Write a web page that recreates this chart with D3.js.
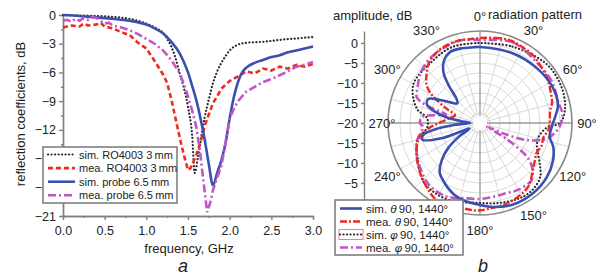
<!DOCTYPE html>
<html>
<head>
<meta charset="utf-8">
<script src="https://cdn.jsdelivr.net/npm/d3@7"></script>
<style>
body { margin: 0; background: #fff; }
svg { display: block; font-family: "Liberation Sans", Arial, sans-serif; }
.ax path, .ax line { stroke: #808080; stroke-width: 1.4; }
.ax text { fill: #222; font-size: 12.5px; }
</style>
</head>
<body>
<svg id="chart" width="608" height="278"></svg>
<script>
// ---- panel a data (frequency in GHz, S11 in dB) ----
var freqTicks = [0, 0.5, 1, 1.5, 2, 2.5, 3];
var dbTicks = [0, -3, -6, -9, -12, -15, -18, -21];

var simROFreq = [0, 0.2, 0.4, 0.6, 0.8, 0.9, 1.0, 1.1, 1.2, 1.25, 1.3, 1.35, 1.4, 1.45, 1.5, 1.55, 1.58, 1.62, 1.66, 1.7, 1.75, 1.8, 1.85, 1.9, 1.95, 2.0, 2.1, 2.2, 2.4, 2.6, 2.8, 3.0];
var simRODb = [0, -0.05, -0.1, -0.2, -0.4, -0.6, -0.9, -1.3, -1.9, -2.5, -3.3, -4.5, -6.1, -7.6, -9.6, -12.6, -16.5, -14.8, -12.7, -10.7, -8.8, -7.1, -5.9, -5.0, -4.3, -3.7, -3.1, -2.9, -2.8, -2.6, -2.45, -2.3];

var meaROFreq = [0, 0.1, 0.2, 0.25, 0.3, 0.4, 0.45, 0.5, 0.6, 0.7, 0.8, 0.9, 1.0, 1.1, 1.2, 1.25, 1.3, 1.35, 1.4, 1.45, 1.5, 1.53, 1.56, 1.6, 1.65, 1.7, 1.75, 1.8, 1.85, 1.9, 2.0, 2.1, 2.2, 2.3, 2.4, 2.5, 2.6, 2.7, 2.8, 2.9, 3.0];
var meaRODb = [-1.3, -1.1, -1.2, -0.9, -1.1, -1.0, -0.8, -1.2, -1.4, -1.8, -2.1, -2.9, -3.5, -4.8, -6.2, -7.1, -8.8, -10.8, -12.8, -14.6, -16.2, -16.0, -15.4, -14.6, -13.3, -11.6, -10.4, -9.2, -8.5, -7.7, -6.9, -6.4, -5.9, -6.1, -5.6, -5.8, -5.4, -5.6, -5.2, -5.4, -5.1];

var simProbeFreq = [0, 0.2, 0.4, 0.6, 0.8, 1.0, 1.1, 1.2, 1.3, 1.4, 1.45, 1.5, 1.55, 1.6, 1.65, 1.7, 1.75, 1.8, 1.85, 1.9, 1.95, 2.0, 2.05, 2.1, 2.15, 2.2, 2.3, 2.4, 2.5, 2.6, 2.7, 2.8, 2.9, 3.0];
var simProbeDb = [0, -0.1, -0.25, -0.4, -0.6, -1.0, -1.4, -1.9, -2.8, -4.0, -4.9, -6.0, -7.4, -8.9, -10.8, -13.0, -15.6, -17.8, -16.5, -15.2, -13.4, -10.8, -8.6, -7.0, -6.0, -5.5, -5.0, -4.7, -4.4, -4.2, -3.9, -3.7, -3.5, -3.3];

var meaProbeFreq = [0, 0.05, 0.1, 0.15, 0.2, 0.25, 0.3, 0.35, 0.4, 0.45, 0.5, 0.55, 0.6, 0.7, 0.8, 0.9, 1.0, 1.1, 1.2, 1.3, 1.4, 1.45, 1.5, 1.55, 1.6, 1.64, 1.68, 1.73, 1.77, 1.8, 1.85, 1.9, 1.95, 2.0, 2.05, 2.1, 2.2, 2.3, 2.4, 2.5, 2.6, 2.7, 2.8, 2.9, 3.0];
var meaProbeDb = [-0.6, -0.5, -0.7, -0.4, -0.6, -0.3, -0.5, -0.2, -0.3, -0.6, -0.9, -0.8, -1.1, -1.3, -1.6, -2.0, -2.5, -3.0, -3.7, -4.7, -6.1, -7.2, -8.5, -10.0, -11.7, -14.0, -17.0, -20.6, -19.5, -18.3, -17.0, -15.8, -13.4, -10.8, -9.8, -9.0, -8.0, -7.5, -7.0, -6.7, -6.3, -5.9, -5.4, -5.2, -4.9];

var legendA = ["sim. RO4003 3\u2009mm", "mea. RO4003 3\u2009mm", "sim. probe 6.5\u2009mm", "mea. probe 6.5\u2009mm"];

// ---- panel b data (angle in degrees, amplitude in dB) ----
// 210 deg label sits under the legend in the original, so it is left out
var angleLabels = [0, 30, 60, 90, 120, 150, 180, 240, 270, 300, 330];
var ampTicks = [0, -5, -10, -15, -20];

var simThetaAng = [0, 25, 46, 64, 77, 86, 90, 101, 108, 117, 129, 143, 158, 171, 180, 192, 200, 207, 213, 219, 226, 232, 237, 242, 248, 254, 258, 262, 266, 270, 276, 280, 284, 289, 295, 300, 305, 311, 316, 320, 324, 330, 337, 345, 355];
var simThetaDb = [-1, -0.75, -0.25, 0.25, 0, -1.25, -1.75, -2.25, -0.75, 0.5, 1.5, 2, 2, 1.25, 0.5, -0.25, -1, -2, -3, -4, -6.75, -10, -13.75, -17, -10, -5, -5.5, -8.75, -13.75, -17.5, -15, -11.25, -8.5, -6, -5.75, -8.5, -11, -12.5, -11.5, -8, -4.5, -2, -0.75, -0.75, -1];

var meaThetaAng = [0, 10, 20, 30, 38, 47, 56, 65, 74, 80, 86, 95, 103, 110, 118, 125, 132, 143, 157, 165, 173, 182, 191, 201, 211, 230, 245, 257, 265, 272, 280, 287, 293, 300, 305, 312, 320, 329, 338, 346, 353];
var meaThetaDb = [1.25, 1.6, 2, 1.7, 1.5, 0.8, 0.25, -0.6, -1.25, -2.2, -2.5, -2.75, -3.75, -3.6, -4, -3.3, -2.25, 0, 1, 1.3, 1.5, 1.9, 1.75, 2.1, 2, -0.5, -2.5, -4.5, -7.5, -10.5, -12.5, -13.5, -11, -6.25, -3.75, -2, -0.2, 0.75, 1.2, 1.25, 1.1];

var simPhiAng = [0, 23, 49, 67, 81, 90, 94, 104, 113, 124, 132, 142, 152, 168, 185, 200, 215, 225, 244, 255, 265, 275, 283, 300, 322, 340, 358];
var simPhiDb = [0, 0.75, 2.25, 2.25, 1.5, 0, -3.25, -5, -4.5, -2, 0.25, 1.25, 1.25, 0.5, 0, 0.75, 0.75, 0.25, -2.5, -3.75, -6.75, -6.75, -3.75, -0.75, -0.5, 0.25, 0];

var meaPhiAng = [0, 22, 43, 60, 75, 84, 92, 97, 103, 110, 114, 117, 121, 125, 129, 133, 138, 150, 159, 170, 180, 193, 205, 220, 235, 245, 255, 266, 270, 276, 280, 284, 288, 292, 300, 309, 319, 331, 346, 353];
var meaPhiDb = [0.75, 1.75, 0.75, 0.75, 0.25, 0.75, 0, -1, -2.75, -7.5, -13.75, -18, -12.5, -6.25, -3.5, -2, -0.75, -0.75, -1.25, -1.25, -1, -0.75, 0.25, 0, -1.5, -2.5, -3.75, -5.75, -5, -5.5, -8.75, -11.25, -6.25, -3, -2, -0.75, 0.25, 0.75, 1.25, 1];

var svg = d3.select("#chart");

// series styles (shared by both panels)
var styles = {
	black:   {stroke: "#2a2a2a", width: 2.2, dash: "0.1,3.4", cap: "round"},
	red:     {stroke: "#f02a20", width: 2.6, dash: "5,3", cap: "butt"},
	blue:    {stroke: "#3a4fb0", width: 2.6, dash: null, cap: "butt"},
	magenta: {stroke: "#c455c4", width: 2.6, dash: "8,3,2,3", cap: "butt"},
	redDot:  {stroke: "#f02a20", width: 2.4, dash: "7,2,2,2", cap: "butt"}
};

function applyStyle(sel, st) {
	sel.attr("fill", "none")
	   .attr("stroke", st.stroke)
	   .attr("stroke-width", st.width)
	   .attr("stroke-linecap", st.cap)
	   .attr("stroke-dasharray", st.dash);
	return sel;
}

// ================= panel a =================
var x = d3.scaleLinear().domain([0, 3]).range([63, 313]);
var y = d3.scaleLinear().domain([-21, 0]).range([216, 15]);

svg.append("g").attr("class", "ax")
	.attr("transform", "translate(0,216)")
	.call(d3.axisBottom(x).tickValues(d3.range(0.25, 3, 0.5)).tickSize(2).tickFormat(""));
svg.append("g").attr("class", "ax")
	.attr("transform", "translate(0,216)")
	.call(d3.axisBottom(x).tickValues(freqTicks).tickSize(4).tickSizeOuter(0).tickFormat(d3.format(".1f")))
	.selectAll("text").attr("dy", "0.95em");
svg.append("g").attr("class", "ax")
	.attr("transform", "translate(63,0)")
	.call(d3.axisLeft(y).tickValues(d3.range(-19.5, 0, 3)).tickSize(2).tickFormat(""));
svg.append("g").attr("class", "ax")
	.attr("transform", "translate(63,0)")
	.call(d3.axisLeft(y).tickValues(dbTicks).tickSize(4).tickSizeOuter(0));

var seriesA = [
	{f: simROFreq, v: simRODb, st: styles.black, curve: d3.curveMonotoneX},
	{f: meaROFreq, v: meaRODb, st: styles.red, curve: d3.curveLinear},
	{f: simProbeFreq, v: simProbeDb, st: styles.blue, curve: d3.curveMonotoneX},
	{f: meaProbeFreq, v: meaProbeDb, st: styles.magenta, curve: d3.curveLinear}
];

seriesA.forEach(function(s) {
	var pts = s.f.map(function(f, i) { return [f, s.v[i]]; });
	var line = d3.line()
		.x(function(d) { return x(d[0]); })
		.y(function(d) { return y(d[1]); })
		.curve(s.curve);
	applyStyle(svg.append("path").attr("d", line(pts)), s.st);
});

svg.append("text")
	.attr("transform", "translate(20,114) rotate(-90)")
	.attr("text-anchor", "middle").attr("dominant-baseline", "central")
	.attr("font-size", 13).attr("fill", "#222")
	.text("reflection coefficients, dB");
svg.append("text")
	.attr("x", 189).attr("y", 248)
	.attr("text-anchor", "middle").attr("dominant-baseline", "central")
	.attr("font-size", 13).attr("fill", "#222")
	.text("frequency, GHz");
svg.append("text")
	.attr("x", 183).attr("y", 266)
	.attr("text-anchor", "middle").attr("dominant-baseline", "central")
	.attr("font-size", 18).attr("font-style", "italic").attr("fill", "#222")
	.text("a");

// legend a
var legA = svg.append("g");
legA.append("rect")
	.attr("x", 43).attr("y", 147).attr("width", 134).attr("height", 56)
	.attr("fill", "#fff").attr("stroke", "#777").attr("stroke-width", 1.5);
seriesA.forEach(function(s, i) {
	var ly = 154.5 + i * 13.6;
	applyStyle(legA.append("line")
		.attr("x1", 48).attr("x2", 75).attr("y1", ly).attr("y2", ly), s.st);
	legA.append("text")
		.attr("x", 79).attr("y", ly)
		.attr("dominant-baseline", "central")
		.attr("font-size", 11).attr("fill", "#222")
		.text(legendA[i]);
});

// ================= panel b =================
var cx = 480, cy = 123;
var r = d3.scaleLinear().domain([-20, 3]).range([0, 92]).clamp(true);
var pol = svg.append("g").attr("transform", "translate(" + cx + "," + cy + ")");

// grid circles and spokes
pol.selectAll(".gc")
	.data(d3.range(-17.5, 0.1, 2.5))
	.enter().append("circle")
	.attr("r", function(d) { return r(d); })
	.attr("fill", "none").attr("stroke", "#cfcfcf").attr("stroke-width", 0.8);
pol.selectAll(".sp")
	.data(d3.range(0, 360, 15))
	.enter().append("line")
	.attr("x1", function(d) { return 7 * Math.sin(d * Math.PI / 180); })
	.attr("y1", function(d) { return -7 * Math.cos(d * Math.PI / 180); })
	.attr("x2", function(d) { return r(3) * Math.sin(d * Math.PI / 180); })
	.attr("y2", function(d) { return -r(3) * Math.cos(d * Math.PI / 180); })
	.attr("stroke", function(d) { return d % 90 === 0 ? "#9a9a9a" : "#cfcfcf"; })
	.attr("stroke-width", function(d) { return d % 90 === 0 ? 1.3 : 0.8; });
pol.append("circle")
	.attr("r", r(3))
	.attr("fill", "none").attr("stroke", "#8a8a8a").attr("stroke-width", 1.6);

// left amplitude axis (mirrored; the lower 0 is hidden by the legend)
var yUp = d3.scaleLinear().domain([-20, 3]).range([cy, cy - r(3)]);
var yDown = d3.scaleLinear().domain([-20, 3]).range([cy, cy + r(3)]);
svg.append("g").attr("class", "ax")
	.attr("transform", "translate(364,0)")
	.call(d3.axisLeft(yUp).tickValues(ampTicks).tickSize(3).tickSizeOuter(0));
svg.append("g").attr("class", "ax")
	.attr("transform", "translate(364,0)")
	.call(d3.axisLeft(yDown).tickValues(ampTicks.slice(1, 4)).tickSize(3).tickSizeOuter(0));

// angle labels
pol.selectAll(".al")
	.data(angleLabels)
	.enter().append("text")
	.attr("x", function(d) { return (d === 270 ? 98 : 107) * Math.sin(d * Math.PI / 180); })
	.attr("y", function(d) { return -(d === 270 ? 98 : 107) * Math.cos(d * Math.PI / 180); })
	.attr("text-anchor", "middle").attr("dominant-baseline", "central")
	.attr("font-size", 13).attr("fill", "#222")
	.text(function(d) { return d + "\u00b0"; });

var seriesB = [
	{a: simPhiAng, v: simPhiDb, st: styles.black},
	{a: meaPhiAng, v: meaPhiDb, st: styles.magenta},
	{a: meaThetaAng, v: meaThetaDb, st: styles.redDot},
	{a: simThetaAng, v: simThetaDb, st: styles.blue}
];

seriesB.forEach(function(s) {
	var pts = s.a.map(function(a, i) { return [a, s.v[i]]; });
	var line = d3.lineRadial()
		.angle(function(d) { return d[0] * Math.PI / 180; })
		.radius(function(d) { return r(d[1]); })
		.curve(d3.curveCatmullRomClosed.alpha(0.5));
	applyStyle(pol.append("path").attr("d", line(pts)), s.st);
});

svg.append("text")
	.attr("x", 333).attr("y", 15)
	.attr("dominant-baseline", "central")
	.attr("font-size", 13).attr("fill", "#222")
	.text("amplitude, dB");
svg.append("text")
	.attr("x", 488).attr("y", 14)
	.attr("dominant-baseline", "central")
	.attr("font-size", 13).attr("fill", "#222")
	.text("radiation pattern");
svg.append("text")
	.attr("x", 483).attr("y", 266)
	.attr("text-anchor", "middle").attr("dominant-baseline", "central")
	.attr("font-size", 18).attr("font-style", "italic").attr("fill", "#222")
	.text("b");

// legend b
var legendB = [
	{pre: "sim. ", sym: "\u03b8", st: styles.blue},
	{pre: "mea. ", sym: "\u03b8", st: styles.redDot},
	{pre: "sim. ", sym: "\u03c6", st: styles.black, box: true},
	{pre: "mea. ", sym: "\u03c6", st: styles.magenta}
];
var legB = svg.append("g");
legB.append("rect")
	.attr("x", 335).attr("y", 200).attr("width", 128).attr("height", 55)
	.attr("fill", "#fff").attr("stroke", "#777").attr("stroke-width", 1.5);
legendB.forEach(function(s, i) {
	var ly = 208.5 + i * 13;
	if (s.box) {
		legB.append("rect")
			.attr("x", 339).attr("y", ly - 5).attr("width", 24).attr("height", 10)
			.attr("fill", "none").attr("stroke", "#f06060").attr("stroke-width", 0.8);
	}
	applyStyle(legB.append("line")
		.attr("x1", 340).attr("x2", 362).attr("y1", ly).attr("y2", ly), s.st);
	var t = legB.append("text")
		.attr("x", 366).attr("y", ly)
		.attr("dominant-baseline", "central")
		.attr("font-size", 11.5).attr("fill", "#222");
	t.append("tspan").text(s.pre);
	t.append("tspan").attr("font-style", "italic").text(s.sym);
	t.append("tspan").text("\u200990, 1440\u00b0");
});
</script>
</body>
</html>
